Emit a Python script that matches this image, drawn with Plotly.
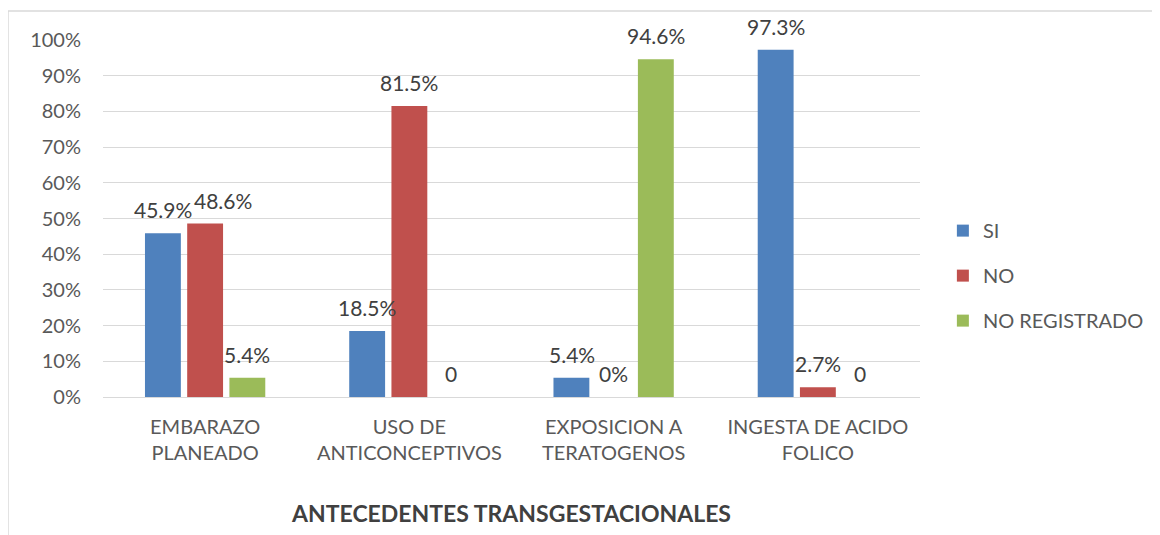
import plotly.graph_objects as go

# --- Datos ---
categorias = ["EMBARAZO<br>PLANEADO", "USO DE<br>ANTICONCEPTIVOS",
              "EXPOSICION A<br>TERATOGENOS", "INGESTA DE ACIDO<br>FOLICO"]
si = [45.9, 18.5, 5.4, 97.3]
no = [48.6, 81.5, 0, 2.7]
no_registrado = [5.4, 0, 94.6, 0]
etiquetas_si = ["45.9%", "18.5%", "5.4%", "97.3%"]
etiquetas_no = ["48.6%", "81.5%", "0%", "2.7%"]
etiquetas_nr = ["5.4%", "0", "94.6%", "0"]
ticks_y = list(range(0, 101, 10))
ticks_y_txt = [f"{v}%" for v in ticks_y]

fuente = "Lato, 'Open Sans', sans-serif"

fig = go.Figure()

series = [
    ("SI", si, etiquetas_si, "#4f81bd"),
    ("NO", no, etiquetas_no, "#c0504d"),
    ("NO REGISTRADO", no_registrado, etiquetas_nr, "#9bbb59"),
]

# separación horizontal entre barras de un grupo (px)
paso = 42
# la etiqueta 48.6% está corrida a la derecha para no chocar con 45.9%
ajuste = {("NO", 0): 18}

anotaciones = []
for i, (nombre, valores, etiquetas, color) in enumerate(series):
    fig.add_trace(go.Bar(
        x=categorias,
        y=valores,
        name=nombre,
        legendgroup=nombre,
        marker=dict(color=color, line=dict(width=0)),
    ))
    for j, (v, t) in enumerate(zip(valores, etiquetas)):
        anotaciones.append(dict(
            x=categorias[j], y=v, text=t,
            xref="x", yref="y",
            xanchor="center", yanchor="bottom",
            xshift=(i - 1) * paso + ajuste.get((nombre, j), 0),
            yshift=9,
            showarrow=False,
            font=dict(size=21, color="#404040", family=fuente),
        ))

# --- Layout (la página añade 8px de margen al cuerpo) ---
fig.update_layout(
    width=1160,
    height=535,
    margin=dict(l=95, r=248, t=32, b=146),
    paper_bgcolor="white",
    plot_bgcolor="white",
    barmode="group",
    bargap=0.38,
    bargroupgap=0.15,
    font=dict(family=fuente, size=20, color="#595959"),
    showlegend=True,
    legend=dict(
        x=1.028, y=0.34, xanchor="left", yanchor="middle",
        font=dict(size=20, color="#595959"),
        itemwidth=30, tracegroupgap=16,
        traceorder="grouped",
    ),
    xaxis=dict(
        showgrid=False,
        showline=True, linecolor="#d9d9d9", linewidth=1,
        ticks="", tickfont=dict(size=20, color="#595959"),
        ticklabelstandoff=12,
        title=dict(text="<b>ANTECEDENTES TRANSGESTACIONALES</b>",
                   font=dict(size=23, color="#404040"), standoff=42),
    ),
    yaxis=dict(
        range=[0, 100],
        tickvals=ticks_y, ticktext=ticks_y_txt,
        showgrid=True, gridcolor="#d9d9d9", gridwidth=1,
        zeroline=False, showline=False, ticks="",
        tickfont=dict(size=20, color="#595959"),
        ticklabelstandoff=21,
    ),
    annotations=anotaciones,
    shapes=[
        dict(type="line", xref="paper", yref="paper",
             x0=-0.1163, x1=-0.1163, y0=1.081, y1=-0.5,
             line=dict(color="#d9d9d9", width=1.5)),
        dict(type="line", xref="paper", yref="paper",
             x0=-0.1163, x1=1.4, y0=1.081, y1=1.081,
             line=dict(color="#d9d9d9", width=1.5)),
    ],
)

fig.write_html("out.html")
